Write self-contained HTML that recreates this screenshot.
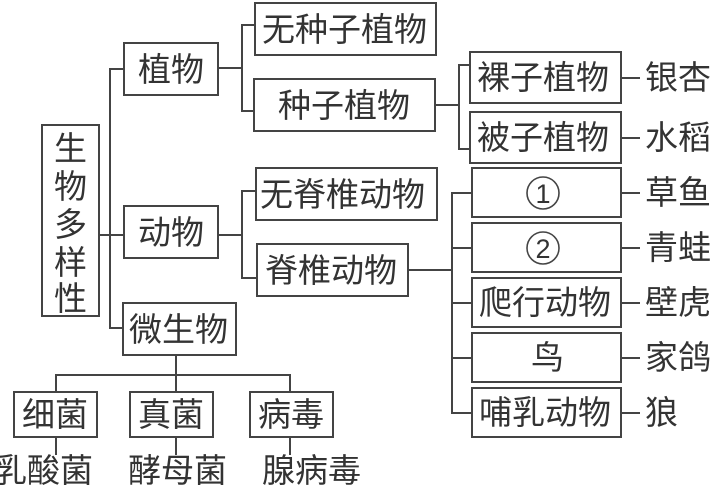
<!DOCTYPE html>
<html><head><meta charset="utf-8"><style>
body{margin:0;background:#fff}
svg text{font-family:"Liberation Sans","Noto Sans CJK SC",sans-serif;font-size:33px;fill:#333}
</style></head><body>
<svg width="715" height="490" viewBox="0 0 715 490" xmlns="http://www.w3.org/2000/svg">
<g fill="none" stroke="#444" stroke-width="2">
<rect x="42" y="125" width="57" height="191"/>
<rect x="124" y="43" width="94" height="52"/>
<rect x="124" y="206" width="94" height="52"/>
<rect x="123" y="303" width="113" height="52"/>
<rect x="255" y="3" width="181" height="52"/>
<rect x="254" y="79" width="181" height="52"/>
<rect x="256" y="168" width="181" height="52"/>
<rect x="257" y="244" width="151" height="52"/>
<rect x="470" y="52" width="151" height="51"/>
<rect x="470" y="112" width="151" height="51"/>
<rect x="472" y="168" width="149" height="49"/>
<rect x="472" y="223" width="149" height="49"/>
<rect x="472" y="278" width="149" height="49"/>
<rect x="472" y="333" width="149" height="49"/>
<rect x="472" y="388" width="149" height="49"/>
<rect x="14" y="392" width="83" height="45"/>
<rect x="130" y="392" width="83" height="45"/>
<rect x="250" y="392" width="83" height="45"/>
<path d="M124 69H110V328H123M99 235H124"/>
<path d="M218 68H242M255 25H242V111H254M218 235H242M256 191H242V278H257"/>
<path d="M435 105H459M470 65H459V149H470"/>
<path d="M408 270H452M472 193H452V413H472M452 248H472M452 303H472M452 358H472"/>
<path d="M621 78H640M621 138H640M621 193H640M621 248H640M621 303H640M621 358H640M621 413H640"/>
<path d="M176 355V375M56 392V375H290V392M176 375V392M56 437V455M176 437V455M290 437V455"/>
<circle cx="543" cy="193" r="16" stroke-width="1.6"/>
<circle cx="543" cy="248" r="16" stroke-width="1.6"/>
</g>
<text x="54" y="160">生</text><text x="54" y="198">物</text><text x="54" y="236">多</text><text x="54" y="274">样</text><text x="54" y="310">性</text>
<text x="138" y="81">植物</text>
<text x="138" y="244">动物</text>
<text x="129" y="341">微生物</text>
<text x="262" y="41">无种子植物</text>
<text x="278" y="117">种子植物</text>
<text x="260" y="206">无脊椎动物</text>
<text x="265" y="282">脊椎动物</text>
<text x="477" y="89">裸子植物</text>
<text x="477" y="149">被子植物</text>
<text x="543" y="203" text-anchor="middle" style="font-size:27px">1</text>
<text x="543" y="258" text-anchor="middle" style="font-size:27px">2</text>
<text x="479" y="314">爬行动物</text>
<text x="531" y="369">鸟</text>
<text x="479" y="424">哺乳动物</text>
<text x="645" y="89">银杏</text>
<text x="645" y="149">水稻</text>
<text x="645" y="204">草鱼</text>
<text x="645" y="259">青蛙</text>
<text x="645" y="314">壁虎</text>
<text x="645" y="369">家鸽</text>
<text x="645" y="424">狼</text>
<text x="22" y="426">细菌</text>
<text x="138" y="426">真菌</text>
<text x="258" y="426">病毒</text>
<text x="-6" y="482">乳酸菌</text>
<text x="128" y="482">酵母菌</text>
<text x="262" y="482">腺病毒</text>
</svg>
</body></html>
